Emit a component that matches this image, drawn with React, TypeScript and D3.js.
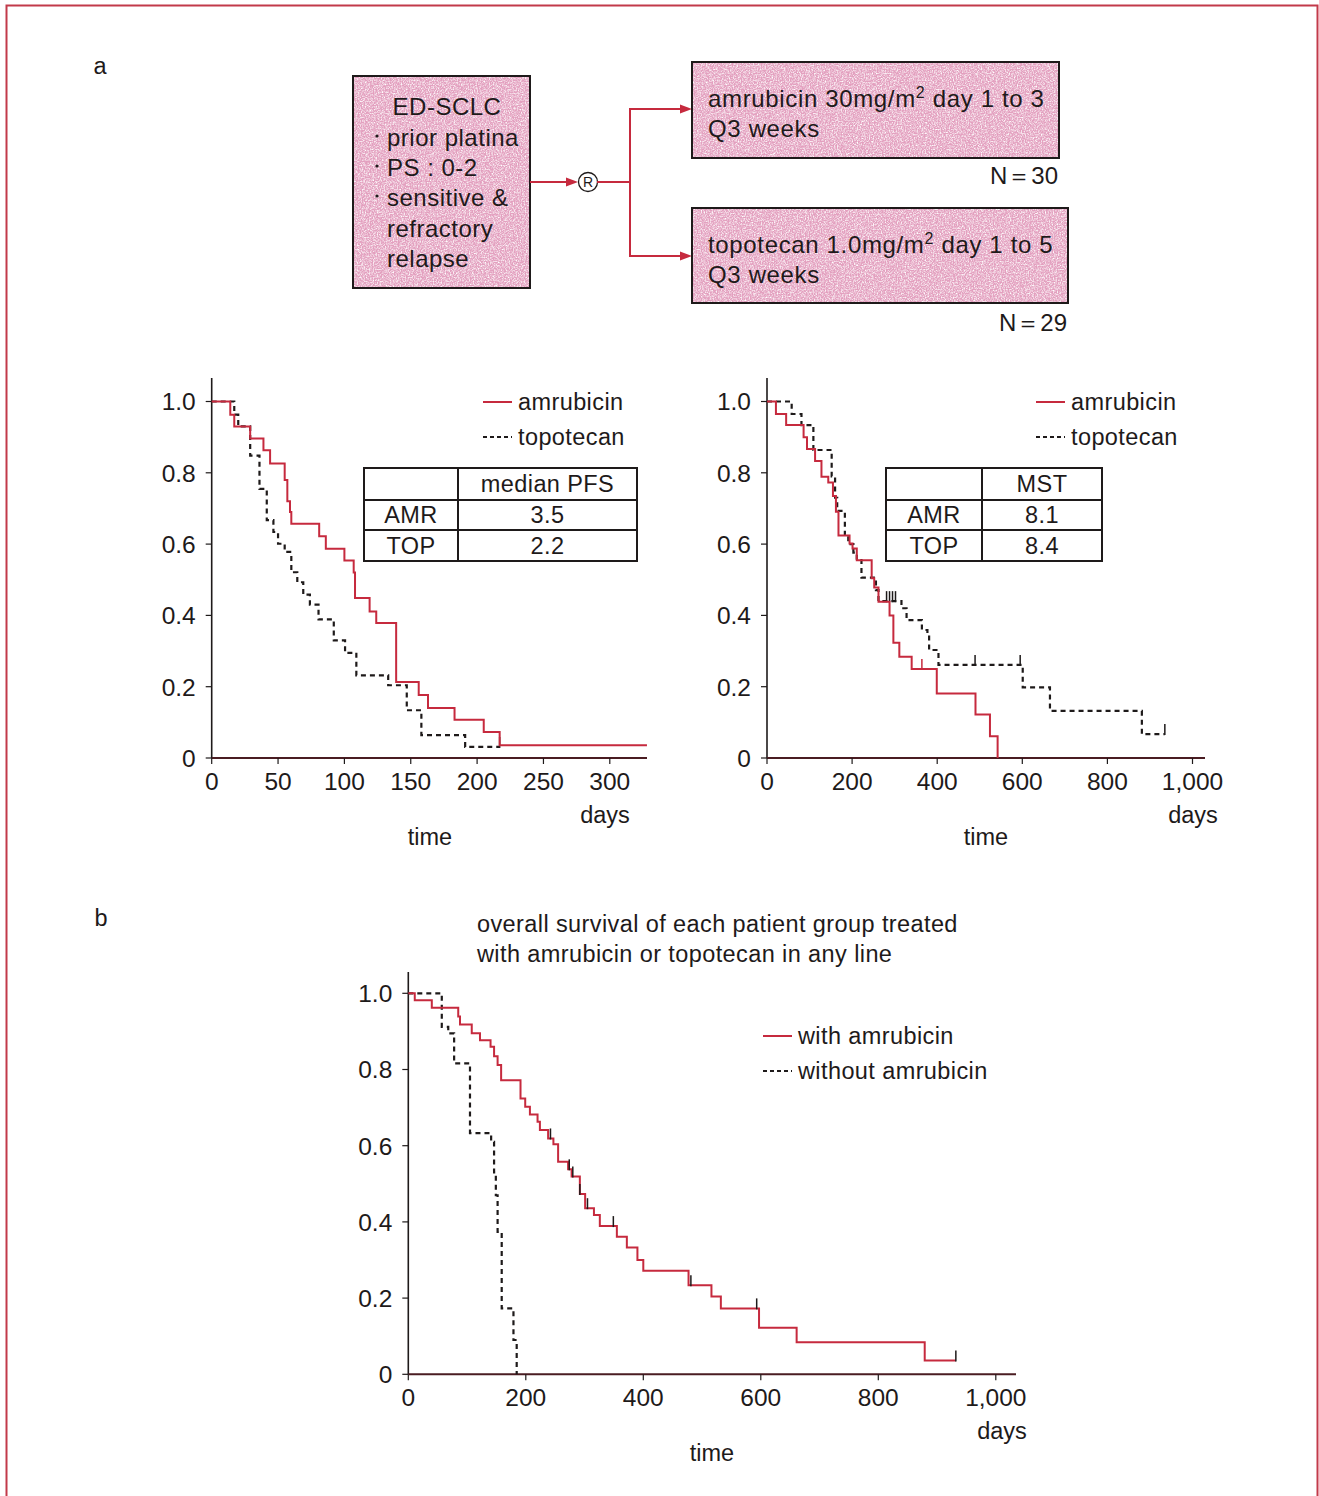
import React from 'react';
import * as d3 from 'd3';

// ---- data ----
type Pt = [number, number];

// a-left: progression free survival, [day, survival]
const pfsAmr: Pt[] = [[0, 1], [14, 0.963], [17, 0.93], [29, 0.896], [39, 0.863], [44, 0.826], [55, 0.78], [57, 0.72], [59, 0.69], [60, 0.657], [81, 0.622], [86, 0.587], [100, 0.554], [107, 0.52], [108, 0.449], [119, 0.411], [124, 0.379], [139, 0.213], [156, 0.177], [163, 0.14], [183, 0.107], [205, 0.073], [217, 0.036]];
const pfsAmrEnd = 328;
const pfsTop: Pt[] = [[0, 1], [17, 0.963], [20, 0.93], [29, 0.848], [36, 0.755], [41.5, 0.667], [46.5, 0.634], [50, 0.601], [55, 0.578], [60, 0.521], [64.5, 0.493], [69, 0.458], [74, 0.43], [80.5, 0.389], [92, 0.33], [100.5, 0.295], [109, 0.232], [133, 0.204], [147, 0.134], [158, 0.064], [191, 0.031]];
const pfsTopEnd = 217;
const pfsTopCensor: Pt[] = [[217, 0.031]];

// a-right: overall survival
const osAmr: Pt[] = [[0, 1], [21, 0.965], [45, 0.934], [86, 0.9], [94, 0.867], [113, 0.833], [128, 0.789], [144, 0.773], [155, 0.735], [162, 0.691], [168, 0.624], [194, 0.602], [201, 0.588], [211, 0.555], [246, 0.504], [252, 0.478], [262, 0.438], [288, 0.4], [297, 0.323], [311, 0.284], [340, 0.25], [399, 0.181], [490, 0.122], [524, 0.061], [542, 0]];
const osAmrEnd = 542;
const osAmrCensor: Pt[] = [[364, 0.25]];
const osTop: Pt[] = [[0, 1], [58, 0.965], [81, 0.934], [109, 0.864], [152, 0.79], [160, 0.73], [165, 0.693], [183, 0.626], [191, 0.6], [203, 0.576], [211, 0.555], [222, 0.506], [256, 0.471], [262, 0.44], [316, 0.42], [328, 0.387], [364, 0.359], [377, 0.345], [381, 0.303], [403, 0.261], [601, 0.198], [665, 0.132], [881, 0.067]];
const osTopEnd = 935;
const osTopCensor: Pt[] = [[281, 0.44], [288, 0.44], [295, 0.44], [302, 0.44], [489, 0.261], [595, 0.261], [935, 0.067]];

// b: overall survival with / without amrubicin
const withAmr: Pt[] = [[0, 1], [11, 0.982], [40, 0.962], [85, 0.939], [88, 0.918], [108, 0.895], [122, 0.877], [140, 0.86], [146, 0.835], [152, 0.812], [158, 0.772], [191, 0.724], [199, 0.702], [207, 0.682], [220, 0.663], [224, 0.641], [238, 0.619], [247, 0.604], [255, 0.558], [272, 0.538], [278, 0.519], [292, 0.473], [301, 0.436], [316, 0.418], [326, 0.389], [355, 0.361], [372, 0.333], [390, 0.3], [400, 0.272], [477, 0.234], [516, 0.204], [532, 0.173], [597, 0.122], [661, 0.084], [879, 0.036]];
const withAmrEnd = 932;
const withAmrCensor: Pt[] = [[242, 0.619], [274, 0.538], [280, 0.519], [292, 0.473], [305, 0.436], [349, 0.389], [481, 0.234], [593, 0.173], [932, 0.036]];
const withoutAmr: Pt[] = [[0, 1], [57, 0.912], [68, 0.895], [78, 0.816], [105, 0.633], [141, 0.61], [146, 0.53], [149, 0.47], [152, 0.374], [159, 0.173], [179, 0.09], [184.5, 0]];
const withoutAmrEnd = 184.5;

const yTicks = [0, 0.2, 0.4, 0.6, 0.8, 1.0];
const pfsXTicks = [0, 50, 100, 150, 200, 250, 300];
const osXTicks = [0, 200, 400, 600, 800, 1000];

const pfsTable = [['', 'median PFS'], ['AMR', '3.5'], ['TOP', '2.2']];
const osTable = [['', 'MST'], ['AMR', '8.1'], ['TOP', '8.4']];

const RED = '#c62a3e';
const INK = '#1e1a1a';
const FONT = '"Liberation Sans", Arial, Helvetica, sans-serif';
const FS = 23.5;
const LS = 0.4;

const yFmt = (v: number) => (v === 0 ? '0' : d3.format('.1f')(v));
const xFmt = d3.format(',');

function Step({ data, end, x, y, dashed }: { data: Pt[]; end: number; x: any; y: any; dashed?: boolean }) {
  const pts: Pt[] = [...data, [end, data[data.length - 1][1]]];
  const line = d3.line<Pt>().x(d => x(d[0])).y(d => y(d[1])).curve(d3.curveStepAfter);
  return (
    <path d={line(pts) || ''} fill="none" stroke={dashed ? INK : RED} strokeWidth={dashed ? 2.2 : 2}
      strokeDasharray={dashed ? '5,4' : undefined} />
  );
}

function Censors({ data, x, y, color }: { data: Pt[]; x: any; y: any; color: string }) {
  return (
    <g stroke={color} strokeWidth={1.5}>
      {data.map((d, i) => (
        <line key={i} x1={x(d[0])} x2={x(d[0])} y1={y(d[1]) - 10} y2={y(d[1]) + 1} />
      ))}
    </g>
  );
}

function Axes({ x, y, xTicks, yTop, xEnd, daysX, timeX }: any) {
  const [y0] = y.range();
  const x0 = x(0);
  return (
    <g fontFamily={FONT} fill={INK}>
      <line x1={x0} x2={x0} y1={yTop} y2={y0} stroke={INK} strokeWidth={1.6} />
      <line x1={x0} x2={xEnd} y1={y0} y2={y0} stroke="#4a1c22" strokeWidth={2} />
      {yTicks.map(t => (
        <g key={t}>
          <line x1={x0 - 6} x2={x0} y1={y(t)} y2={y(t)} stroke={INK} strokeWidth={1.2} />
          <text x={x0 - 16} y={y(t)} dy="0.36em" textAnchor="end" fontSize={24.5}>{yFmt(t)}</text>
        </g>
      ))}
      {xTicks.map((t: number) => (
        <g key={t}>
          <line x1={x(t)} x2={x(t)} y1={y0} y2={y0 + 6} stroke={INK} strokeWidth={1.2} />
          <text x={x(t)} y={y0 + 32} textAnchor="middle" fontSize={24.5}>{xFmt(t)}</text>
        </g>
      ))}
      <text x={daysX} y={y0 + 65} textAnchor="middle" fontSize={FS}>days</text>
      <text x={timeX} y={y0 + 87} textAnchor="middle" fontSize={FS}>time</text>
    </g>
  );
}

function Legend({ x, y, labels }: { x: number; y: number; labels: string[] }) {
  return (
    <g fontFamily={FONT} fontSize={FS} letterSpacing={LS} fill={INK}>
      <line x1={x} x2={x + 29} y1={y} y2={y} stroke={RED} strokeWidth={2} />
      <text x={x + 35} y={y} dy="0.35em">{labels[0]}</text>
      <line x1={x} x2={x + 29} y1={y + 35} y2={y + 35} stroke={INK} strokeWidth={2} strokeDasharray="4,3" />
      <text x={x + 35} y={y + 35} dy="0.35em">{labels[1]}</text>
    </g>
  );
}

function Table({ x, y, w1, w2, rows }: { x: number; y: number; w1: number; w2: number; rows: string[][] }) {
  const rh = [32, 30, 31];
  const ys = [y, y + rh[0], y + rh[0] + rh[1], y + rh[0] + rh[1] + rh[2]];
  return (
    <g fontFamily={FONT} fontSize={FS} letterSpacing={LS} fill={INK}>
      <rect x={x} y={y} width={w1 + w2} height={ys[3] - y} fill="none" stroke={INK} strokeWidth={2} />
      <line x1={x + w1} x2={x + w1} y1={y} y2={ys[3]} stroke={INK} strokeWidth={2} />
      <line x1={x} x2={x + w1 + w2} y1={ys[1]} y2={ys[1]} stroke={INK} strokeWidth={2} />
      <line x1={x} x2={x + w1 + w2} y1={ys[2]} y2={ys[2]} stroke={INK} strokeWidth={2} />
      {rows.map((r, i) => (
        <g key={i}>
          <text x={x + w1 / 2} y={(ys[i] + ys[i + 1]) / 2} dy="0.36em" textAnchor="middle">{r[0]}</text>
          <text x={x + w1 + w2 / 2} y={(ys[i] + ys[i + 1]) / 2} dy="0.36em" textAnchor="middle">{r[1]}</text>
        </g>
      ))}
    </g>
  );
}

function Arrow({ x1, y1, x2 }: { x1: number; y1: number; x2: number }) {
  return (
    <g>
      <line x1={x1} x2={x2 - 8} y1={y1} y2={y1} stroke={RED} strokeWidth={2} />
      <path d={`M${x2},${y1} L${x2 - 12},${y1 - 4.5} L${x2 - 12},${y1 + 4.5} Z`} fill={RED} />
    </g>
  );
}

function PinkBox({ x, y, w, h }: { x: number; y: number; w: number; h: number }) {
  return (
    <g>
      <rect x={x} y={y} width={w} height={h} fill="#e3a0bf" />
      <rect x={x} y={y} width={w} height={h} filter="url(#speckle)" />
      <rect x={x} y={y} width={w} height={h} fill="none" stroke={INK} strokeWidth={2} />
    </g>
  );
}

export default function App() {
  // a-left
  const x1 = d3.scaleLinear().domain([0, 100]).range([211.7, 344.4]);
  const y1 = d3.scaleLinear().domain([0, 1]).range([758, 401.5]);
  // a-right
  const x2 = d3.scaleLinear().domain([0, 1000]).range([767, 1192.5]);
  const y2 = d3.scaleLinear().domain([0, 1]).range([758, 401.5]);
  // b
  const x3 = d3.scaleLinear().domain([0, 1000]).range([408.3, 995.8]);
  const y3 = d3.scaleLinear().domain([0, 1]).range([1374.3, 993.3]);

  const txt = { fontFamily: FONT, fill: INK } as const;

  return (
    <div style={{ position: 'absolute', left: 0, top: 0 }}>
      <svg width={1319} height={1496} viewBox="0 0 1319 1496" style={{ display: 'block', background: '#fff' }}>
        <defs>
          <filter id="speckle" x="0" y="0" width="1" height="1">
            <feTurbulence type="fractalNoise" baseFrequency="0.75" numOctaves={2} seed={4} />
            <feColorMatrix type="matrix" values="0 0 0 0 1  0 0 0 0 1  0 0 0 0 1  2.2 0 0 0 -0.85" />
          </filter>
        </defs>

        <rect x={6.5} y={5.5} width={1311} height={1510} fill="none" stroke="#c23a4a" strokeWidth={2} />

        <text x={100} y={66} dy="0.35em" textAnchor="middle" fontSize={FS} {...txt}>a</text>
        <text x={101} y={918} dy="0.35em" textAnchor="middle" fontSize={FS} {...txt}>b</text>

        {/* study design */}
        <PinkBox x={353} y={76} w={177} h={212} />
        <g fontSize={24} letterSpacing={0.5} {...txt}>
          <text x={447} y={107} dy="0.35em" textAnchor="middle">ED-SCLC</text>
          <circle cx={377} cy={136} r={1.6} fill={INK} />
          <text x={387} y={138} dy="0.35em">prior platina</text>
          <circle cx={377} cy={166} r={1.6} fill={INK} />
          <text x={387} y={168} dy="0.35em">PS : 0-2</text>
          <circle cx={377} cy={196} r={1.6} fill={INK} />
          <text x={387} y={198} dy="0.35em">sensitive &amp;</text>
          <text x={387} y={229} dy="0.35em">refractory</text>
          <text x={387} y={259} dy="0.35em">relapse</text>
        </g>
        <Arrow x1={530} y1={182} x2={578} />
        <circle cx={588} cy={182} r={9.5} fill="#fff" stroke={INK} strokeWidth={1.3} />
        <text x={588} y={182} dy="0.36em" textAnchor="middle" fontSize={14} {...txt}>R</text>
        <line x1={597} x2={631} y1={182} y2={182} stroke={RED} strokeWidth={2} />
        <line x1={630} x2={630} y1={108} y2={257} stroke={RED} strokeWidth={2} />
        <Arrow x1={630} y1={109} x2={692} />
        <Arrow x1={630} y1={256} x2={692} />

        <PinkBox x={692} y={62} w={367} h={96} />
        <PinkBox x={692} y={208} w={376} h={95} />
        <g fontSize={24} letterSpacing={0.65} {...txt}>
          <text x={708} y={99} dy="0.35em">amrubicin 30mg/m<tspan fontSize={16} dy={-9}>2</tspan><tspan dy={9}> day 1 to 3</tspan></text>
          <text x={708} y={129} dy="0.35em">Q3 weeks</text>
          <text x={708} y={245} dy="0.35em">topotecan 1.0mg/m<tspan fontSize={16} dy={-9}>2</tspan><tspan dy={9}> day 1 to 5</tspan></text>
          <text x={708} y={275} dy="0.35em">Q3 weeks</text>
        </g>
        <g fontSize={24} {...txt}>
          <text x={1058} y={176} dy="0.35em" textAnchor="end">N＝30</text>
          <text x={1067} y={323} dy="0.35em" textAnchor="end">N＝29</text>
        </g>

        {/* a-left: PFS */}
        <Axes x={x1} y={y1} xTicks={pfsXTicks} yTop={378} xEnd={647} daysX={605} timeX={430} />
        <Step data={pfsTop} end={pfsTopEnd} x={x1} y={y1} dashed />
        <Censors data={pfsTopCensor} x={x1} y={y1} color={INK} />
        <Step data={pfsAmr} end={pfsAmrEnd} x={x1} y={y1} />
        <Legend x={483} y={402} labels={['amrubicin', 'topotecan']} />
        <Table x={364} y={468} w1={94} w2={179} rows={pfsTable} />

        {/* a-right: OS */}
        <Axes x={x2} y={y2} xTicks={osXTicks} yTop={378} xEnd={1205} daysX={1193} timeX={986} />
        <Step data={osTop} end={osTopEnd} x={x2} y={y2} dashed />
        <Censors data={osTopCensor} x={x2} y={y2} color={INK} />
        <Step data={osAmr} end={osAmrEnd} x={x2} y={y2} />
        <Censors data={osAmrCensor} x={x2} y={y2} color={RED} />
        <Legend x={1036} y={402} labels={['amrubicin', 'topotecan']} />
        <Table x={886} y={468} w1={96} w2={120} rows={osTable} />

        {/* b */}
        <g fontSize={FS} letterSpacing={LS} {...txt}>
          <text x={477} y={924} dy="0.35em">overall survival of each patient group treated</text>
          <text x={477} y={954} dy="0.35em">with amrubicin or topotecan in any line</text>
        </g>
        <Axes x={x3} y={y3} xTicks={osXTicks} yTop={972} xEnd={1016} daysX={1002} timeX={712} />
        <Step data={withoutAmr} end={withoutAmrEnd} x={x3} y={y3} dashed />
        <Step data={withAmr} end={withAmrEnd} x={x3} y={y3} />
        <Censors data={withAmrCensor} x={x3} y={y3} color={INK} />
        <Legend x={763} y={1036} labels={['with amrubicin', 'without amrubicin']} />
      </svg>
    </div>
  );
}
